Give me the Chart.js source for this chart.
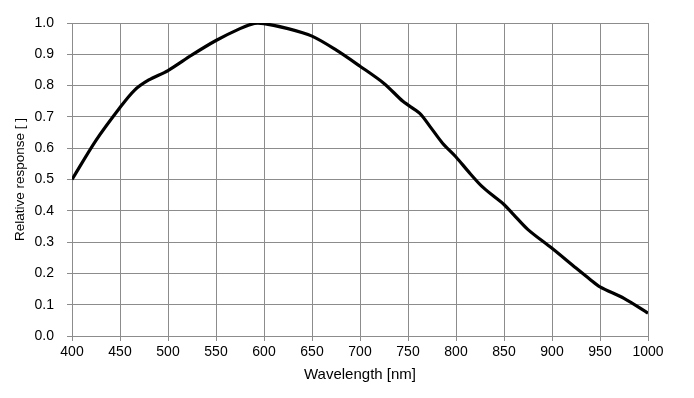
<!DOCTYPE html>
<html>
<head>
<meta charset="utf-8">
<script src="https://cdn.jsdelivr.net/npm/chart.js@4/dist/chart.umd.min.js"></script>
<style>
  html, body { margin: 0; padding: 0; background: #fff; }
  #wrap { width: 694px; height: 398px; }
</style>
</head>
<body>
<div id="wrap"><canvas id="chart" width="694" height="398"></canvas></div>
<script>
const wavelengths = [400, 425, 450, 465, 480, 500, 525, 550, 575, 590, 600, 625, 650, 675, 700, 725, 745, 762, 773, 786, 800, 813, 827, 840, 850, 860, 875, 900, 925, 940, 950, 975, 1000];
const response    = [0.50, 0.625, 0.73, 0.785, 0.818, 0.848, 0.898, 0.944, 0.982, 0.999, 0.998, 0.982, 0.958, 0.914, 0.862, 0.807, 0.749, 0.712, 0.669, 0.616, 0.572, 0.525, 0.478, 0.445, 0.42, 0.388, 0.34, 0.28, 0.217, 0.18, 0.157, 0.12, 0.073];
const xTicks = [400, 450, 500, 550, 600, 650, 700, 750, 800, 850, 900, 950, 1000];

const points = wavelengths.map((w, i) => ({ x: w, y: response[i] }));

const gridColor = '#8c8c8c';
const fam = '"Liberation Sans", Arial, sans-serif';
const tickFont = { family: fam, size: 14 };

const ctx = document.getElementById('chart').getContext('2d');
new Chart(ctx, {
    type: 'line',
    data: {
        datasets: [{
            data: points,
            borderColor: '#000',
            borderWidth: 3.2,
            pointRadius: 0,
            fill: false,
            tension: 0.3
        }]
    },
    options: {
        responsive: false,
        animation: false,
        layout: { padding: { left: 0, top: 23, right: 46, bottom: 0 } },
        plugins: { legend: { display: false }, tooltip: { enabled: false } },
        scales: {
            x: {
                type: 'linear',
                min: 400,
                max: 1000,
                afterBuildTicks: (axis) => { axis.ticks = xTicks.map(v => ({ value: v })); },
                afterFit: (axis) => { axis.height = 62; },
                grid: { color: gridColor, lineWidth: 1, tickLength: 5 },
                border: { color: gridColor },
                ticks: { color: '#000', font: tickFont, padding: 3, maxRotation: 0,
                         callback: (v) => String(v) },
                title: { display: true, text: 'Wavelength [nm]', color: '#000',
                         font: { family: fam, size: 15 }, padding: { top: 2, bottom: 14 } }
            },
            y: {
                min: 0,
                max: 1,
                afterFit: (axis) => { axis.width = 72; },
                grid: { color: gridColor, lineWidth: 1, tickLength: 5 },
                border: { color: gridColor },
                ticks: { stepSize: 0.1, color: '#000', font: tickFont, padding: 13,
                         callback: (v) => v.toFixed(1) },
                title: { display: true, text: 'Relative response [ ]', color: '#000',
                         font: { family: fam, size: 13.5 }, padding: { top: 12, bottom: 0 } }
            }
        }
    }
});
</script>
</body>
</html>
